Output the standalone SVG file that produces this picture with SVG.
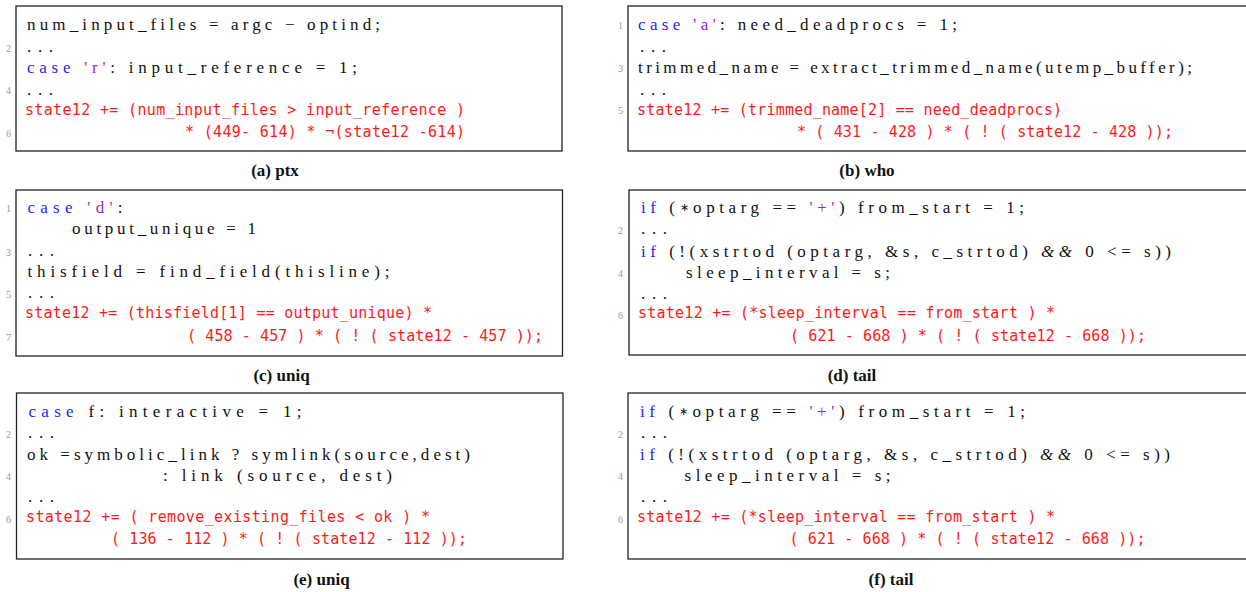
<svg xmlns="http://www.w3.org/2000/svg" width="1246" height="592" viewBox="0 0 1246 592">
<style>
.box{fill:#fff;stroke:#222;stroke-width:1.3}
.c{font-family:"Liberation Serif",serif;font-size:17px;fill:#111}
.r{font-family:"DejaVu Sans Mono",monospace;font-size:15px;fill:#ff1a1a}
.n{font-family:"Liberation Serif",serif;font-size:10px;fill:#999;text-anchor:end}
.k{fill:#1f1fff}
.s{fill:#a01fc8}
.a{font-size:11px}
.i{font-style:italic}
.cap{font-family:"Liberation Serif",serif;font-size:17px;font-weight:bold;fill:#111;text-anchor:middle}
</style>
<rect width="1246" height="592" fill="#fff"/>

<g id="panel-a">
<rect class="box" x="16" y="6" width="546" height="145"/>
<text class="n" x="11" y="52">2</text>
<text class="n" x="11" y="94">4</text>
<text class="n" x="11" y="137">6</text>
<text class="c" x="27" y="30" textLength="353" lengthAdjust="spacing">num_input_files = argc − optind;</text>
<text class="c" x="27" y="52" textLength="26" lengthAdjust="spacing">...</text>
<text class="c" x="27" y="73" textLength="330" lengthAdjust="spacing"><tspan class="k">case</tspan> <tspan class="s">'r'</tspan>: input_reference = 1;</text>
<text class="c" x="27" y="95" textLength="26" lengthAdjust="spacing">...</text>
<text class="r" x="25" y="115" textLength="440" lengthAdjust="spacing">state12 += (num_input_files &gt; input_reference )</text>
<text class="r" x="185" y="137" textLength="280" lengthAdjust="spacing">* (449- 614) * ¬(state12 -614)</text>
<text class="cap" x="275" y="176">(a) ptx</text>
</g>

<g id="panel-b">
<rect class="box" x="628" y="6" width="640" height="145"/>
<text class="n" x="623" y="29">1</text>
<text class="n" x="623" y="72">3</text>
<text class="n" x="623" y="114">5</text>
<text class="c" x="638" y="30" textLength="319" lengthAdjust="spacing"><tspan class="k">case</tspan> <tspan class="s">'a'</tspan>: need_deadprocs = 1;</text>
<text class="c" x="640" y="52" textLength="26" lengthAdjust="spacing">...</text>
<text class="c" x="638" y="73" textLength="554" lengthAdjust="spacing">trimmed_name = extract_trimmed_name(utemp_buffer);</text>
<text class="c" x="640" y="95" textLength="26" lengthAdjust="spacing">...</text>
<text class="r" x="637" y="115" textLength="425" lengthAdjust="spacing">state12 += (trimmed_name[2] == need_deadprocs)</text>
<text class="r" x="797" y="137" textLength="376" lengthAdjust="spacing">* ( 431 - 428 ) * ( ! ( state12 - 428 ));</text>
<text class="cap" x="867" y="176">(b) who</text>
</g>

<g id="panel-c">
<rect class="box" x="16" y="190" width="546.5" height="166"/>
<text class="n" x="11" y="212">1</text>
<text class="n" x="11" y="256">3</text>
<text class="n" x="11" y="298">5</text>
<text class="n" x="11" y="341">7</text>
<text class="c" x="27.5" y="213" textLength="95" lengthAdjust="spacing"><tspan class="k">case</tspan> <tspan class="s">'d'</tspan>:</text>
<text class="c" x="72" y="234" textLength="184" lengthAdjust="spacing">output_unique = 1</text>
<text class="c" x="28" y="256" textLength="26" lengthAdjust="spacing">...</text>
<text class="c" x="27.5" y="277" textLength="362" lengthAdjust="spacing">thisfield = find_field(thisline);</text>
<text class="c" x="28" y="298" textLength="26" lengthAdjust="spacing">...</text>
<text class="r" x="25" y="318" textLength="407" lengthAdjust="spacing">state12 += (thisfield[1] == output_unique) *</text>
<text class="r" x="187" y="341" textLength="356" lengthAdjust="spacing">( 458 - 457 ) * ( ! ( state12 - 457 ));</text>
<text class="cap" x="281.5" y="381">(c) uniq</text>
</g>

<g id="panel-d">
<rect class="box" x="629" y="190" width="640" height="165"/>
<text class="n" x="623" y="234">2</text>
<text class="n" x="623" y="277">4</text>
<text class="n" x="623" y="319">6</text>
<text class="c" x="641" y="213" textLength="383" lengthAdjust="spacing"><tspan class="k">if</tspan> (<tspan class="a" dy="-2">∗</tspan><tspan dy="2">optarg</tspan> == <tspan class="s">'+'</tspan>) from_start = 1;</text>
<text class="c" x="641" y="234" textLength="26" lengthAdjust="spacing">...</text>
<text class="c" x="641" y="257" textLength="530" lengthAdjust="spacing"><tspan class="k">if</tspan> (!(xstrtod (optarg, &amp;s, c_strtod) <tspan class="i">&amp;&amp;</tspan> 0 &lt;= s))</text>
<text class="c" x="686" y="278" textLength="204" lengthAdjust="spacing">sleep_interval = s;</text>
<text class="c" x="641" y="299" textLength="26" lengthAdjust="spacing">...</text>
<text class="r" x="638" y="318" textLength="417" lengthAdjust="spacing">state12 += (*sleep_interval == from_start ) *</text>
<text class="r" x="790" y="341" textLength="356" lengthAdjust="spacing">( 621 - 668 ) * ( ! ( state12 - 668 ));</text>
<text class="cap" x="852" y="381">(d) tail</text>
</g>

<g id="panel-e">
<rect class="box" x="16.5" y="393" width="546.5" height="166"/>
<text class="n" x="11" y="438">2</text>
<text class="n" x="11" y="480">4</text>
<text class="n" x="11" y="523">6</text>
<text class="c" x="28.5" y="417" textLength="273" lengthAdjust="spacing"><tspan class="k">case</tspan> f:  interactive = 1;</text>
<text class="c" x="28" y="438" textLength="26" lengthAdjust="spacing">...</text>
<text class="c" x="27" y="460" textLength="443" lengthAdjust="spacing">ok =symbolic_link ? symlink(source,dest)</text>
<text class="c" x="163" y="481" textLength="229" lengthAdjust="spacing">: link (source, dest)</text>
<text class="c" x="28" y="502" textLength="26" lengthAdjust="spacing">...</text>
<text class="r" x="26" y="522" textLength="404" lengthAdjust="spacing">state12 += ( remove_existing_files &lt; ok ) *</text>
<text class="r" x="111" y="544" textLength="356" lengthAdjust="spacing">( 136 - 112 ) * ( ! ( state12 - 112 ));</text>
<text class="cap" x="321.5" y="585">(e) uniq</text>
</g>

<g id="panel-f">
<rect class="box" x="628" y="393" width="640" height="166"/>
<text class="n" x="623" y="438">2</text>
<text class="n" x="623" y="480">4</text>
<text class="n" x="623" y="523">6</text>
<text class="c" x="640" y="417" textLength="385" lengthAdjust="spacing"><tspan class="k">if</tspan> (<tspan class="a" dy="-2">∗</tspan><tspan dy="2">optarg</tspan> == <tspan class="s">'+'</tspan>) from_start = 1;</text>
<text class="c" x="641" y="438" textLength="26" lengthAdjust="spacing">...</text>
<text class="c" x="640" y="460" textLength="530" lengthAdjust="spacing"><tspan class="k">if</tspan> (!(xstrtod (optarg, &amp;s, c_strtod) <tspan class="i">&amp;&amp;</tspan> 0 &lt;= s))</text>
<text class="c" x="684.5" y="481" textLength="206" lengthAdjust="spacing">sleep_interval = s;</text>
<text class="c" x="641" y="502" textLength="26" lengthAdjust="spacing">...</text>
<text class="r" x="637" y="522" textLength="418" lengthAdjust="spacing">state12 += (*sleep_interval == from_start ) *</text>
<text class="r" x="789.5" y="544" textLength="356" lengthAdjust="spacing">( 621 - 668 ) * ( ! ( state12 - 668 ));</text>
<text class="cap" x="891" y="585">(f) tail</text>
</g>

<g id="connectors"></g>
</svg>
